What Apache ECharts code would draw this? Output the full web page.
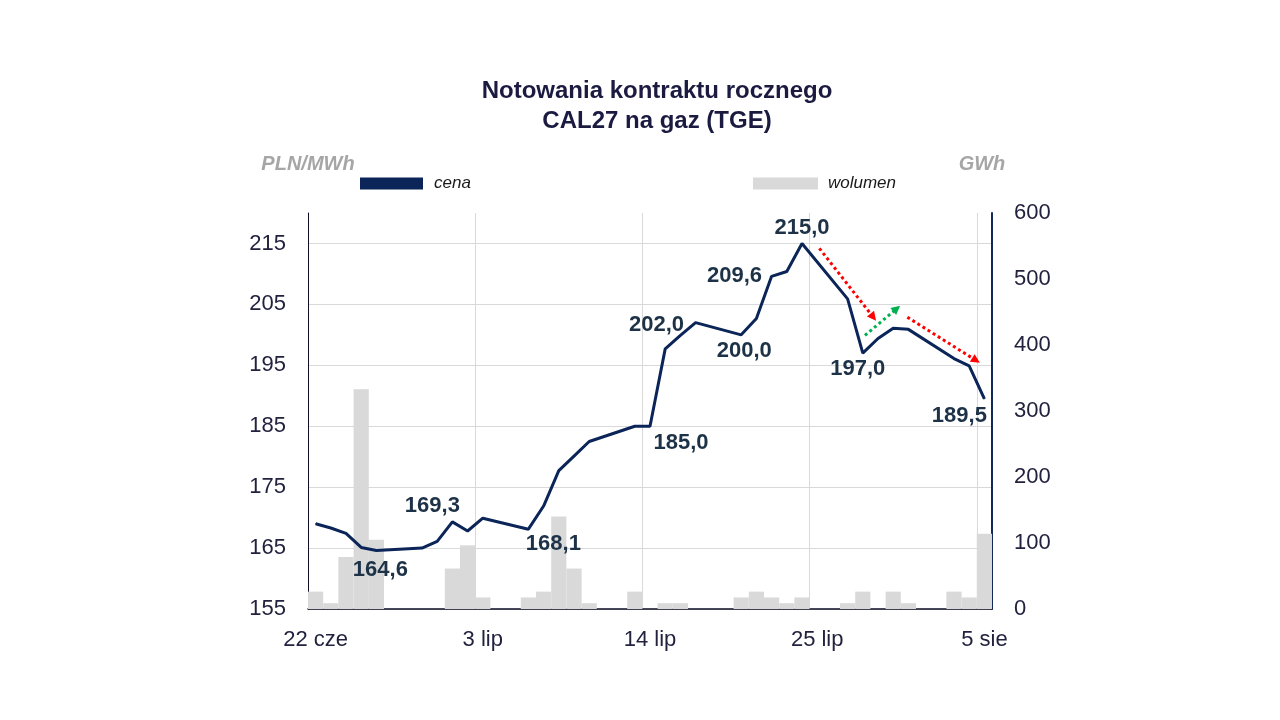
<!DOCTYPE html>
<html>
<head>
<meta charset="utf-8">
<script src="https://cdn.jsdelivr.net/npm/echarts@6/dist/echarts.min.js"></script>
<style>
  html, body { margin: 0; padding: 0; background: #ffffff; }
  #chart { width: 1280px; height: 720px; }
</style>
</head>
<body>
<div id="chart"></div>
<script>
// ---- Data ----
const categories = [
  "22 cze","23 cze","24 cze","25 cze","26 cze","27 cze","28 cze","29 cze","30 cze",
  "1 lip","2 lip","3 lip","4 lip","5 lip","6 lip","7 lip","8 lip","9 lip","10 lip",
  "11 lip","12 lip","13 lip","14 lip","15 lip","16 lip","17 lip","18 lip","19 lip","20 lip",
  "21 lip","22 lip","23 lip","24 lip","25 lip","26 lip","27 lip","28 lip","29 lip","30 lip","31 lip",
  "1 sie","2 sie","3 sie","4 sie","5 sie"
];

// cena (PLN/MWh), null = no session (weekend)
const price = [
  169.0, 168.3, 167.4, 165.1, 164.6, null, null, 165.0, 166.1,
  169.3, 167.8, 169.9, null, null, 168.1, 171.9, 177.7, 180.1, 182.5,
  null, null, 185.0, 185.0, 197.7, 199.9, 202.0, null, null, 200.0,
  202.7, 209.6, 210.4, 215.0, null, null, 205.9, 197.0, 199.4, 201.1, 200.9,
  null, null, 196.1, 194.9, 189.5
];

// wolumen (GWh)
const volume = [
  26.3, 8.8, 78.8, 332.9, 105.1, null, null, null, null,
  61.3, 96.4, 17.5, null, null, 17.5, 26.3, 140.2, 61.3, 8.8,
  null, null, 26.3, null, 8.8, 8.8, null, null, null, 17.5,
  26.3, 17.5, 8.8, 17.5, null, null, 8.8, 26.3, null, 26.3, 8.8,
  null, null, 26.3, 17.5, 113.9
];

// indices of labelled price points
const labelledPoints = [4, 9, 14, 22, 25, 28, 30, 32, 36, 44];

// trend arrows in data coordinates: [fromIndex, fromValue, toIndex, toValue, kind]
const trendArrows = [
  [33.14, 214.2, 36.69, 202.9, "down"],
  [36.14, 199.9, 38.23, 204.3, "up"],
  [38.93, 202.9, 43.45, 195.8, "down"]
];

const yLeftTicks = { min: 155, max: 220, interval: 10 };
const yRightTicks = { min: 0, max: 600, interval: 100 };

// ---- Styles (label placement) ----
const labelStyle = {
  4:  { position: 'bottom', offset: [4, 3] },
  9:  { position: 'top',    offset: [-20, 1] },
  14: { position: 'bottom', offset: [25, -2] },
  22: { position: 'bottom', offset: [31, 0] },
  25: { position: 'left',   offset: [-6, 2] },
  28: { position: 'bottom', offset: [3, 0] },
  30: { position: 'left',   offset: [-4, 0] },
  32: { position: 'top',    offset: [0, 1] },
  36: { position: 'bottom', offset: [-5, -1] },
  44: { position: 'bottom', offset: [-25, 1] }
};

const NAVY = '#0b2559';
const FONT = 'Liberation Sans';
const fmt = v => v.toFixed(1).replace('.', ',');

const priceData = price.map((v, i) => {
  if (labelledPoints.indexOf(i) >= 0 && v != null) {
    const ls = labelStyle[i];
    return {
      value: v,
      label: {
        show: true,
        position: ls.position,
        offset: ls.offset,
        distance: 5,
        formatter: p => fmt(p.value),
        fontFamily: FONT,
        fontWeight: 'bold',
        fontSize: 22,
        color: '#1d3247'
      }
    };
  }
  return v;
});

const arrowLines = trendArrows.map(a => {
  const col = a[4] === 'up' ? '#00b050' : '#ff0000';
  return [
    { coord: [a[0], a[1]], lineStyle: { color: col, type: [3, 3], width: 3 }, symbol: 'none' },
    { coord: [a[2], a[3]], symbol: 'triangle' }
  ];
});

const chart = echarts.init(document.getElementById('chart'));
chart.setOption({
  backgroundColor: '#ffffff',
  animation: false,
  title: {
    text: 'Notowania kontraktu rocznego\nCAL27 na gaz (TGE)',
    left: 652,
    textAlign: 'center',
    top: 71,
    textStyle: {
      fontFamily: FONT,
      fontWeight: 'bold',
      fontSize: 24,
      lineHeight: 30,
      color: '#1b1a40'
    }
  },
  legend: [
    {
      data: ['cena'],
      left: 355, top: 170,
      itemWidth: 63, itemHeight: 12,
      icon: 'rect',
      selectedMode: false,
      textStyle: { fontFamily: FONT, fontStyle: 'italic', fontSize: 17, color: '#1a1a1a', padding: [0, 0, 0, 6] }
    },
    {
      data: ['wolumen'],
      left: 748, top: 170,
      itemWidth: 65, itemHeight: 12,
      icon: 'rect',
      selectedMode: false,
      textStyle: { fontFamily: FONT, fontStyle: 'italic', fontSize: 17, color: '#1a1a1a', padding: [0, 0, 0, 5] }
    }
  ],
  grid: { left: 308, right: 288, top: 213, bottom: 111, containLabel: false },
  xAxis: [
    {
      type: 'category',
      data: categories,
      boundaryGap: true,
      axisLine: { show: true, lineStyle: { color: '#0d0d26', width: 1.5 } },
      axisTick: { show: false },
      axisLabel: {
        interval: 10,
        margin: 20,
        fontFamily: FONT,
        fontSize: 22,
        color: '#22223f'
      },
      splitLine: { show: true, interval: 10, lineStyle: { color: '#d9d9d9', width: 1 } }
    },
    {
      type: 'value',
      min: -0.5, max: 44.5,
      show: false
    }
  ],
  yAxis: [
    {
      type: 'value',
      min: yLeftTicks.min, max: yLeftTicks.max, interval: yLeftTicks.interval,
      name: 'PLN/MWh',
      nameLocation: 'end',
      nameGap: 39,
      nameTextStyle: { fontFamily: FONT, fontStyle: 'italic', fontWeight: 'bold', fontSize: 20, color: '#a6a6a6', align: 'center' },
      axisLine: { show: true, onZero: false, lineStyle: { color: '#0d0d26', width: 1 } },
      axisTick: { show: false },
      axisLabel: { margin: 22, fontFamily: FONT, fontSize: 22, color: '#22223f', showMaxLabel: false },
      splitLine: {
        show: true,
        lineStyle: { color: ['#d9d9d9','#d9d9d9','#d9d9d9','#d9d9d9','#d9d9d9','#d9d9d9','#d9d9d9','rgba(0,0,0,0)'], width: 1 }
      }
    },
    {
      type: 'value',
      min: yRightTicks.min, max: yRightTicks.max, interval: yRightTicks.interval,
      position: 'right',
      name: 'GWh',
      nameLocation: 'end',
      nameGap: 39,
      nameTextStyle: { fontFamily: FONT, fontStyle: 'italic', fontWeight: 'bold', fontSize: 20, color: '#a6a6a6', align: 'center', padding: [0, 20, 0, 0] },
      axisLine: { show: true, onZero: false, lineStyle: { color: '#13285a', width: 2 } },
      axisTick: { show: false },
      axisLabel: { margin: 22, fontFamily: FONT, fontSize: 22, color: '#22223f' },
      splitLine: { show: false }
    }
  ],
  series: [
    {
      name: 'wolumen',
      type: 'bar',
      xAxisIndex: 0,
      yAxisIndex: 1,
      data: volume,
      barCategoryGap: '0%',
      itemStyle: { color: '#d9d9d9' },
      emphasis: { disabled: true },
      z: 1
    },
    {
      name: 'cena',
      type: 'line',
      xAxisIndex: 0,
      yAxisIndex: 0,
      data: priceData,
      connectNulls: true,
      symbol: 'circle',
      symbolSize: 1,
      showSymbol: true,
      lineStyle: { color: NAVY, width: 3 },
      itemStyle: { color: NAVY },
      emphasis: { disabled: true },
      z: 3
    },
    {
      name: 'trend',
      type: 'line',
      xAxisIndex: 1,
      yAxisIndex: 0,
      data: [],
      silent: true,
      z: 4,
      markLine: {
        silent: true,
        animation: false,
        symbolSize: 9,
        label: { show: false },
        emphasis: { disabled: true },
        data: arrowLines
      }
    }
  ]
});
</script>
</body>
</html>
